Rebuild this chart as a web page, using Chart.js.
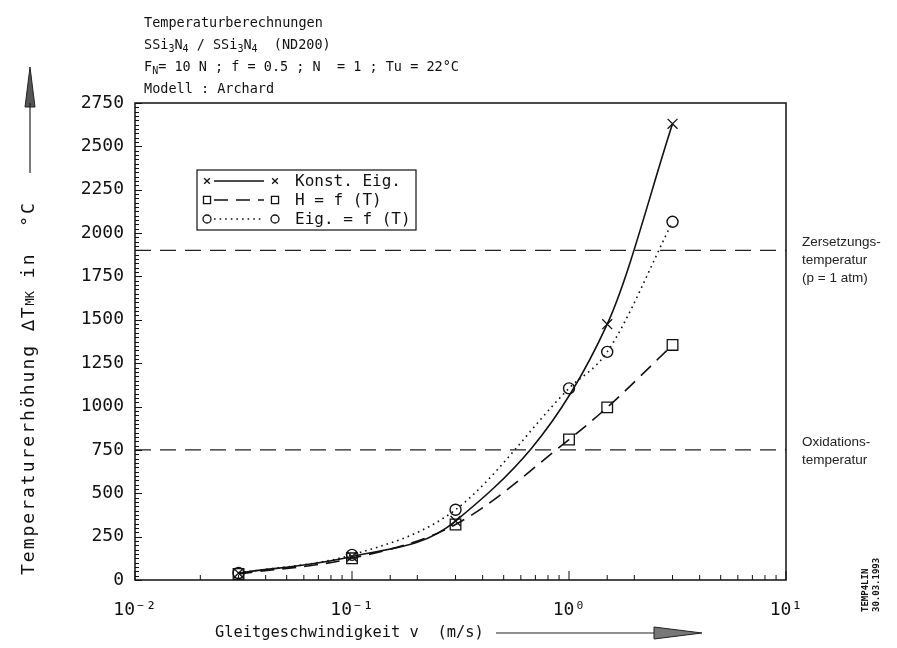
<!DOCTYPE html>
<html>
<head>
<meta charset="utf-8">
<script src="https://cdn.jsdelivr.net/npm/chart.js"></script>
<style>
  body { margin: 0; background: #fff; }
  #wrap { position: relative; width: 897px; height: 648px; overflow: hidden; }
  #chart { position: absolute; left: 0; top: 0; }
  .mono { font-family: "DejaVu Sans Mono", monospace; color: #111; white-space: pre; position: absolute; }
  #head { left: 144px; top: 11px; font-size: 13.5px; line-height: 22px; }
  #head sub { font-size: 10px; vertical-align: -3px; line-height: 0; }
  #ytitle { left: 17px; top: 575px; font-size: 18px; transform-origin: 0 0; transform: rotate(-90deg); letter-spacing: 2px; }
  #ytitle span { font-size: 12px; letter-spacing: 0; }
  #xtitle { left: 215px; top: 623px; font-size: 15.4px; }
  #stamp { left: 860px; top: 612px; font-size: 9px; line-height: 11px; font-weight: bold; transform-origin: 0 0; transform: rotate(-90deg); }
  svg { position: absolute; }
</style>
</head>
<body>
<div id="wrap">
  <canvas id="chart" width="897" height="648"></canvas>
  <div id="head" class="mono">Temperaturberechnungen
SSi<sub>3</sub>N<sub>4</sub> / SSi<sub>3</sub>N<sub>4</sub>  (ND200)
F<sub>N</sub>= 10 N ; f = 0.5 ; N  = 1 ; Tu = 22°C
Modell : Archard</div>
  <div id="ytitle" class="mono">Temperaturerhöhung ∆T<span>MK</span> in  °C</div>
  <div id="xtitle" class="mono">Gleitgeschwindigkeit v  (m/s)</div>
  <div id="stamp" class="mono">TEMP4LIN
30.03.1993</div>
  <svg style="left:22px;top:63px" width="16" height="112">
    <polygon points="8,4 3,44 13,44" fill="#555" stroke="#222" stroke-width="1"/>
    <line x1="8" y1="40" x2="8" y2="110" stroke="#222" stroke-width="1.2"/>
  </svg>
  <svg style="left:496px;top:624px" width="212" height="18">
    <line x1="0" y1="9" x2="160" y2="9" stroke="#222" stroke-width="1.2"/>
    <polygon points="158,3 206,9 158,15" fill="#777" stroke="#222" stroke-width="1"/>
  </svg>
</div>
<script>
// values
var velocityKonst = [0.03, 0.1, 0.3, 1.5, 3];
var tempKonst = [40, 135, 340, 1475, 2630];

var velocityH = [0.03, 0.1, 0.3, 1, 1.5, 3];
var tempH = [35, 125, 320, 810, 995, 1355];

var velocityEig = [0.03, 0.1, 0.3, 1, 1.5, 3];
var tempEig = [40, 145, 405, 1105, 1315, 2065];

var seriesNames = ["Konst. Eig.", "H = f (T)", "Eig. = f (T)"];

var limitLevels = [1900, 750];
var limitLabels = [["Zersetzungs-", "temperatur", "(p = 1 atm)"], ["Oxidations-", "temperatur"]];

var xDecades = [0.01, 0.1, 1, 10];
var xDecadeLabels = ["10⁻²", "10⁻¹", "10⁰", "10¹"];

var yMax = 2750;
var yStep = 250;

function pairs(xs, ys) {
	return xs.map(function(x, i) { return {x: x, y: ys[i]}; });
}

var datasets = [
	{
		label: seriesNames[0],
		data: pairs(velocityKonst, tempKonst),
		borderColor: "#111",
		borderWidth: 1.6,
		pointStyle: "crossRot",
		pointRadius: 7,
		pointBorderWidth: 1.3,
		cubicInterpolationMode: "monotone"
	},
	{
		label: seriesNames[1],
		data: pairs(velocityH, tempH),
		borderColor: "#111",
		borderWidth: 1.6,
		borderDash: [14, 8],
		pointStyle: "rect",
		pointRadius: 7.5,
		pointBorderWidth: 1.3,
		cubicInterpolationMode: "monotone"
	},
	{
		label: seriesNames[2],
		data: pairs(velocityEig, tempEig),
		borderColor: "#111",
		borderWidth: 1.6,
		borderDash: [1.6, 4],
		pointStyle: "circle",
		pointRadius: 5.5,
		pointBorderWidth: 1.4,
		cubicInterpolationMode: "monotone"
	}
];

limitLevels.forEach(function(level) {
	datasets.push({
		label: "",
		data: [{x: xDecades[0], y: level}, {x: xDecades[xDecades.length - 1], y: level}],
		borderColor: "#222",
		borderWidth: 1.3,
		borderDash: [16, 9],
		pointRadius: 0
	});
});

// frame with inward ticks
var frame = {
	id: "frame",
	afterDraw: function(chart) {
		var ctx = chart.ctx, a = chart.chartArea;
		var xs = chart.scales.x, ys = chart.scales.y;
		ctx.save();
		ctx.strokeStyle = "#111";
		ctx.lineWidth = 1.5;
		ctx.strokeRect(a.left, a.top, a.right - a.left, a.bottom - a.top);
		ctx.lineWidth = 1;
		ctx.beginPath();
		xs.ticks.forEach(function(t) {
			var px = xs.getPixelForValue(t.value);
			var e = Math.log10(t.value);
			var len = Math.abs(e - Math.round(e)) < 1e-6 ? 9 : 5;
			ctx.moveTo(px, a.bottom);
			ctx.lineTo(px, a.bottom - len);
		});
		for (var v = 0; v <= yMax; v += yStep / 10) {
			var py = Math.round(ys.getPixelForValue(v)) + 0.5;
			var len = v % yStep === 0 ? 7 : 4;
			ctx.moveTo(a.left, py);
			ctx.lineTo(a.left + len, py);
		}
		ctx.stroke();
		ctx.restore();
	}
};

// boxed legend inside the plot
var legendBox = {
	id: "legendBox",
	afterDraw: function(chart) {
		var ctx = chart.ctx, a = chart.chartArea;
		var left = a.left + 62, top = a.top + 67;
		ctx.save();
		ctx.fillStyle = "#fff";
		ctx.fillRect(left, top, 219, 60);
		ctx.strokeStyle = "#111";
		ctx.lineWidth = 1.2;
		ctx.strokeRect(left, top, 219, 60);
		ctx.font = '16px "DejaVu Sans Mono"';
		ctx.textBaseline = "middle";
		seriesNames.forEach(function(name, i) {
			var ds = chart.data.datasets[i];
			var y = top + 11 + i * 19;
			ctx.lineWidth = 1.3;
			ctx.setLineDash(ds.borderDash || []);
			ctx.beginPath();
			ctx.moveTo(left + 17, y);
			ctx.lineTo(left + 67, y);
			ctx.stroke();
			ctx.setLineDash([]);
			ctx.fillStyle = "rgba(0,0,0,0)";
			var opts = {pointStyle: ds.pointStyle, radius: ds.pointStyle === "rect" ? 5 : 4, borderWidth: 1.3};
			Chart.helpers.drawPoint(ctx, opts, left + 10, y);
			Chart.helpers.drawPoint(ctx, opts, left + 78, y);
			ctx.fillStyle = "#111";
			ctx.fillText(name, left + 98, y + 1);
		});
		ctx.restore();
	}
};

// labels for the two limit lines
var limitText = {
	id: "limitText",
	afterDraw: function(chart) {
		var ctx = chart.ctx, a = chart.chartArea;
		ctx.save();
		ctx.font = '13.5px "Liberation Sans"';
		ctx.fillStyle = "#222";
		ctx.textBaseline = "middle";
		limitLevels.forEach(function(level, i) {
			var py = chart.scales.y.getPixelForValue(level);
			limitLabels[i].forEach(function(line, j) {
				ctx.fillText(line, a.right + 16, py - 8 + j * 18);
			});
		});
		ctx.restore();
	}
};

var chart = new Chart(document.getElementById("chart"), {
	type: "scatter",
	data: {datasets: datasets},
	options: {
		responsive: false,
		animation: false,
		showLine: true,
		layout: {padding: {left: 0, right: 111, top: 103, bottom: 0}},
		plugins: {legend: {display: false}, tooltip: {enabled: false}},
		elements: {point: {backgroundColor: "rgba(0,0,0,0)", borderColor: "#111"}},
		scales: {
			x: {
				type: "logarithmic",
				min: xDecades[0],
				max: xDecades[xDecades.length - 1],
				grid: {display: false},
				border: {display: false},
				afterFit: function(s) { s.height = 68; },
				ticks: {
					autoSkip: false,
					maxRotation: 0,
					padding: 12,
					color: "#111",
					font: {family: "DejaVu Sans Mono", size: 18},
					callback: function(value) {
						var i = xDecades.findIndex(function(d) { return Math.abs(d - value) < d * 1e-6; });
						return i >= 0 ? xDecadeLabels[i] : "";
					}
				}
			},
			y: {
				min: 0,
				max: yMax,
				grid: {display: false},
				border: {display: false},
				afterFit: function(s) { s.width = 135; },
				ticks: {
					stepSize: yStep,
					padding: 3,
					color: "#111",
					font: {family: "DejaVu Sans Mono", size: 18},
					callback: function(value) { return String(value); }
				}
			}
		}
	},
	plugins: [frame, legendBox, limitText]
});
</script>
</body>
</html>
